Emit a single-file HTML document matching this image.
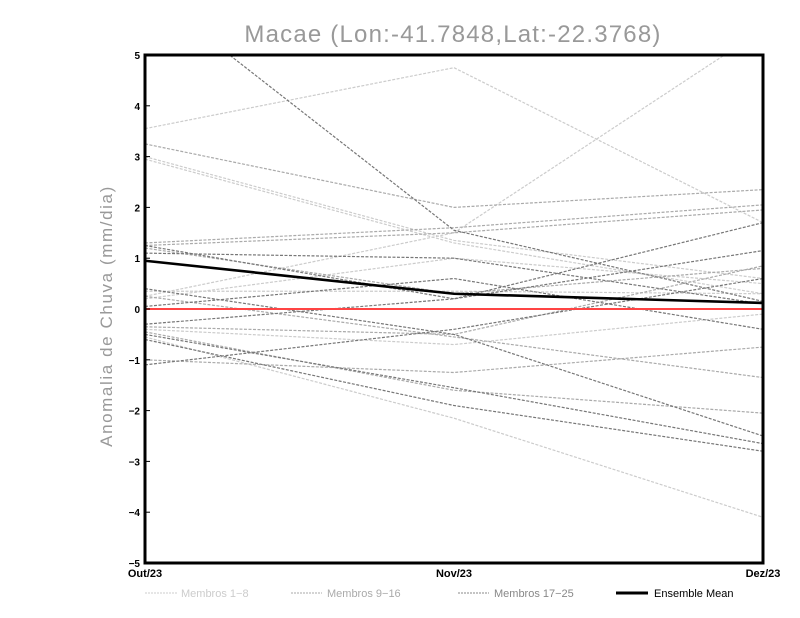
<!DOCTYPE html>
<html><head><meta charset="utf-8"><style>
body{margin:0;background:#fff;}
svg{display:block;font-family:"Liberation Sans",sans-serif;}
</style></head><body>
<svg id="chart" width="800" height="618">
<text x="453" y="42" text-anchor="middle" font-size="24" fill="#999" letter-spacing="1.2">Macae (Lon:-41.7848,Lat:-22.3768)</text>
<text transform="translate(112,316) rotate(-90)" text-anchor="middle" font-size="17" fill="#999" letter-spacing="1.6">Anomalia de Chuva (mm/dia)</text>
<defs><clipPath id="pc"><rect x="145" y="55" width="618" height="508"/></clipPath></defs>
<g id="lines" clip-path="url(#pc)"></g>
<line x1="145" y1="309" x2="763" y2="309" stroke="#f44" stroke-width="2"/>
<g id="meang"></g>
<rect x="145" y="55" width="618" height="508" fill="none" stroke="#000" stroke-width="3"/>
<g id="axes"></g>
<g font-size="11">
<g><line x1="145" y1="593" x2="177" y2="593" stroke="#ccc" stroke-dasharray="2,1"/><text x="181" y="597" fill="#ccc">Membros 1−8</text></g>
<g><line x1="291" y1="593" x2="322" y2="593" stroke="#aaa" stroke-dasharray="2,1"/><text x="327" y="597" fill="#aaa">Membros 9−16</text></g>
<g><line x1="458" y1="593" x2="489" y2="593" stroke="#888" stroke-dasharray="2,1"/><text x="494" y="597" fill="#888">Membros 17−25</text></g>
<g><line x1="616" y1="593" x2="648" y2="593" stroke="#000" stroke-width="3"/><text x="654" y="597" fill="#000">Ensemble Mean</text></g>
</g>
</svg>
<script>
const categories=["Out/23","Nov/23","Dez/23"];
const yTicks=[5,4,3,2,1,0,-1,-2,-3,-4,-5];
const members1to8=[[3.55,4.75,1.7],[2.95,1.3,0.3],[0.25,1.5,5.5],[3.0,1.35,0.6],[-0.4,-0.7,-0.1],[0.35,0.35,0.3],[-0.55,-2.15,-4.1],[0.2,1.0,0.5]];
const members9to16=[[3.25,2.0,2.35],[1.3,1.6,2.05],[1.25,1.5,1.95],[1.2,0.3,0.8],[-0.35,-0.5,0.85],[-1.0,-1.25,-0.75],[-0.45,-1.6,-2.05],[0.25,-0.55,-1.35]];
const members17to25=[[6.3,1.55,0.15],[1.25,0.2,1.15],[1.1,1.0,0.1],[0.4,-0.5,-2.5],[-0.3,0.2,1.7],[-1.1,-0.4,0.6],[-0.5,-1.55,-2.65],[-0.6,-1.9,-2.8],[0.05,0.6,-0.4]];
const ensembleMean=[0.95,0.3,0.12];
const X=i=>145+i*309, Y=v=>309-v*50.8;
const NS="http://www.w3.org/2000/svg";
function mk(t,a,p){const e=document.createElementNS(NS,t);for(const k in a)e.setAttribute(k,a[k]);p.appendChild(e);return e;}
const lg=document.getElementById('lines');
function draw(set,color,name){set.forEach((s,j)=>{const el=mk('polyline',{points:s.map((v,i)=>X(i)+','+Y(v)).join(' '),fill:'none',stroke:color,'stroke-width':1.2,'stroke-dasharray':'3,1.5'},lg);

});}
draw(members1to8,'#ccc','member-light');
draw(members9to16,'#aaa','member-medium');
draw(members17to25,'#777','member-dark');
const m=mk('polyline',{points:ensembleMean.map((v,i)=>X(i)+','+Y(v)).join(' '),fill:'none',stroke:'#000','stroke-width':2.6},document.getElementById('meang'));


const ax=document.getElementById('axes');
yTicks.forEach(v=>{const t=mk('text',{x:140,y:Y(v)+4,'text-anchor':'end','font-size':10,'font-weight':'bold'},ax);t.textContent=v<0?'−'+(-v):v;


mk('line',{x1:145,x2:150,y1:Y(v),y2:Y(v),stroke:'#000'},ax);});
categories.forEach((c,i)=>{const t=mk('text',{x:X(i),y:577,'text-anchor':'middle','font-size':11,'font-weight':'bold'},ax);t.textContent=c;

});
</script>
</body></html>
